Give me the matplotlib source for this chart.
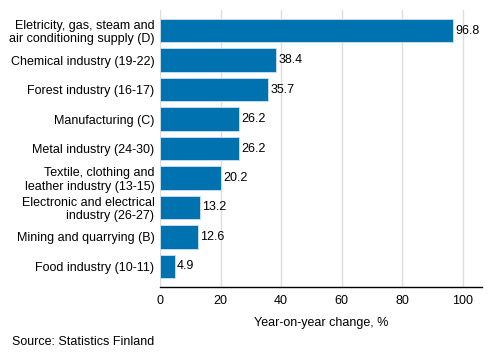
import matplotlib
matplotlib.use("Agg")
import matplotlib.pyplot as plt

categories = [
    "Eletricity, gas, steam and\nair conditioning supply (D)",
    "Chemical industry (19-22)",
    "Forest industry (16-17)",
    "Manufacturing (C)",
    "Metal industry (24-30)",
    "Textile, clothing and\nleather industry (13-15)",
    "Electronic and electrical\nindustry (26-27)",
    "Mining and quarrying (B)",
    "Food industry (10-11)",
]
values = [96.8, 38.4, 35.7, 26.2, 26.2, 20.2, 13.2, 12.6, 4.9]
xticks = [0, 20, 40, 60, 80, 100]

plt.rcParams['font.family'] = ['Liberation Sans', 'DejaVu Sans']
fs = 9

fig = plt.figure(figsize=(4.93, 3.6), dpi=100)
ax = fig.add_axes([160/493, 1-287/360, (482-160)/493, (287-10)/360])

ypos = list(range(len(values)))
ax.barh(ypos, values, height=0.8, color="#0072b0", edgecolor="#cfe0ee", linewidth=0.6, zorder=3)
ax.set_ylim(len(values) - 0.3, -0.7)
ax.set_xlim(0, 106.3)
ax.set_yticks(ypos)
ax.set_yticklabels(categories, fontsize=fs, linespacing=1.15)
ax.set_xticks(xticks)
ax.set_xticklabels([str(t) for t in xticks], fontsize=fs)
ax.tick_params(axis='both', length=0, pad=4)
ax.tick_params(axis='x', pad=6)
ax.grid(axis='x', color="#dddddd", linewidth=1, zorder=0)
for s in ['top', 'right', 'left']:
    ax.spines[s].set_visible(False)
ax.spines['bottom'].set_color('black')
ax.spines['bottom'].set_linewidth(1)
ax.set_xlabel("Year-on-year change, %", fontsize=fs, labelpad=7)

for y, v in zip(ypos, values):
    ax.text(v + 0.7, y, f"{v:.1f}", va='center', ha='left', fontsize=fs, zorder=4)

fig.text(12/493, 1-342/360, "Source: Statistics Finland", fontsize=fs, va='center', ha='left')

fig.savefig("out.png", dpi=100)
